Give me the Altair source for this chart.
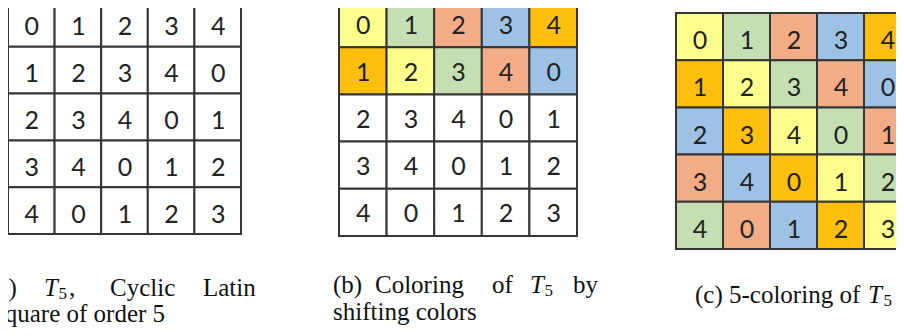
import altair as alt
import pandas as pd

# ---- data -------------------------------------------------------------
latin_rows = [
    [0, 1, 2, 3, 4],
    [1, 2, 3, 4, 0],
    [2, 3, 4, 0, 1],
    [3, 4, 0, 1, 2],
    [4, 0, 1, 2, 3],
]

colors_a = [
    ["white", "white", "white", "white", "white"],
    ["white", "white", "white", "white", "white"],
    ["white", "white", "white", "white", "white"],
    ["white", "white", "white", "white", "white"],
    ["white", "white", "white", "white", "white"],
]
colors_b = [
    ["yellow", "green", "salmon", "blue", "orange"],
    ["orange", "yellow", "green", "salmon", "blue"],
    ["white", "white", "white", "white", "white"],
    ["white", "white", "white", "white", "white"],
    ["white", "white", "white", "white", "white"],
]
colors_c = [
    ["yellow", "green", "salmon", "blue", "orange"],
    ["orange", "yellow", "green", "salmon", "blue"],
    ["blue", "orange", "yellow", "green", "salmon"],
    ["salmon", "blue", "orange", "yellow", "green"],
    ["green", "salmon", "blue", "orange", "yellow"],
]

color_keys = ["white", "yellow", "green", "salmon", "blue", "orange"]
color_hex = ["#FFFFFF", "#FFFF8E", "#C5DFB2", "#F2AC86", "#9DC2E6", "#FFBF0F"]

panels = ["a", "b", "c"]
panel_colors = {"a": colors_a, "b": colors_b, "c": colors_c}

# caption segments: text pieces of each caption
cap_roman_text = ["(a)", ",", "Cyclic", "Latin", "square of order 5",
                  "(b)", "Coloring", "of", "by", "shifting colors",
                  "(c) 5-coloring of"]
cap_italic_text = ["T", "T", "T"]
cap_sub_text = ["5", "5", "5"]

# ---- layout (screen pixel positions / sizes) ---------------------------
layout = {  # x0, y0, cell w, cell h, digit dy
    "a": (8.0, 0.0, 46.6, 46.8, 4.0),
    "b": (339.0, 0.0, 47.6, 47.2, 2.0),
    "c": (676.0, 13.0, 47.0, 47.2, 4.5),
}
cap_roman_pos = [(-11, 296), (69, 296), (110, 296), (203, 296), (-5, 322),
                 (333, 293), (375, 293), (492, 293), (573, 293), (333, 320),
                 (695, 303)]
cap_italic_pos = [(44, 296), (530, 293), (868, 303)]
cap_sub_pos = [(58.5, 299), (544.5, 296), (883.5, 306)]

rows = []
for p in panels:
    x0, y0, w, h, dy = layout[p]
    for r, line in enumerate(latin_rows):
        for c, v in enumerate(line):
            rows.append({
                "panel": p, "value": str(v), "fill": panel_colors[p][r][c],
                "x0": x0 + c * w, "x1": x0 + (c + 1) * w,
                "y0": y0 + r * h, "y1": y0 + (r + 1) * h,
                "xc": x0 + (c + 0.5) * w + 0.5, "yc": y0 + (r + 0.5) * h + dy,
            })
cells = pd.DataFrame(rows)

roman = pd.DataFrame({"t": cap_roman_text,
                      "x": [p[0] for p in cap_roman_pos],
                      "y": [p[1] for p in cap_roman_pos]})
italic = pd.DataFrame({"t": cap_italic_text,
                       "x": [p[0] for p in cap_italic_pos],
                       "y": [p[1] for p in cap_italic_pos]})
sub = pd.DataFrame({"t": cap_sub_text,
                    "x": [p[0] for p in cap_sub_pos],
                    "y": [p[1] for p in cap_sub_pos]})

W, H = 888, 320
xs = alt.Scale(domain=[8, 8 + W], nice=False, zero=False)
ys = alt.Scale(domain=[8, 8 + H], nice=False, zero=False, reverse=True)

rect = alt.Chart(cells).mark_rect(stroke="#353535", strokeWidth=2).encode(
    x=alt.X("x0:Q", scale=xs, axis=None),
    x2="x1:Q",
    y=alt.Y("y0:Q", scale=ys, axis=None),
    y2="y1:Q",
    color=alt.Color("fill:N", scale=alt.Scale(domain=color_keys, range=color_hex), legend=None),
)

digits = alt.Chart(cells).mark_text(
    font="Lato", fontSize=25, color="#222222", baseline="middle", align="center"
).encode(
    x=alt.X("xc:Q", scale=xs, axis=None),
    y=alt.Y("yc:Q", scale=ys, axis=None),
    text="value:N",
)

def caption(df, size, style="normal"):
    return alt.Chart(df).mark_text(
        font="Liberation Serif", fontSize=size, fontStyle=style, color="#111111",
        align="left", baseline="alphabetic"
    ).encode(
        x=alt.X("x:Q", scale=xs, axis=None),
        y=alt.Y("y:Q", scale=ys, axis=None),
        text="t:N",
    )

chart = alt.layer(
    rect, digits,
    caption(roman, 25), caption(italic, 25, "italic"), caption(sub, 17),
).properties(
    width=W, height=H,
    autosize=alt.AutoSizeParams(type="none"),
    padding=0,
    background="white",
).configure_view(stroke=None)

chart.save("out.html", embed_options={"renderer": "svg", "actions": False})
